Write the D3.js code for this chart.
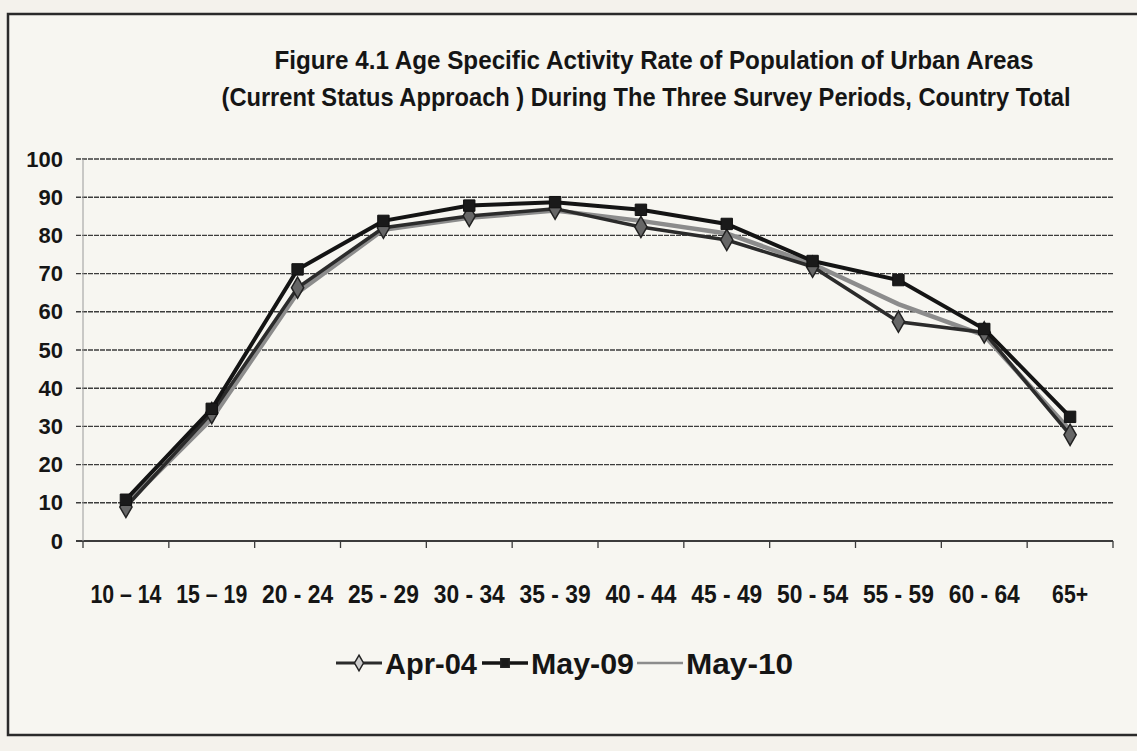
<!DOCTYPE html>
<html>
<head>
<meta charset="utf-8">
<script src="https://cdn.jsdelivr.net/npm/d3@7/dist/d3.min.js"></script>
<style>
  body { margin: 0; background: #f4f2ec; }
  svg { display: block; }
  text { font-family: "Liberation Sans", Arial, sans-serif; fill: #151515; }
</style>
</head>
<body>
<div id="chart"></div>
<script>
// age groups on the x axis (labels typed like the original, mixed dashes)
const ageGroups = ["10 – 14", "15 – 19", "20 - 24", "25 - 29", "30 - 34", "35 - 39",
                   "40 - 44", "45 - 49", "50 - 54", "55 - 59", "60 - 64", "65+"];
// activity rate (%)
const apr04 = [8.9, 33.5, 66.3, 82.0, 85.1, 87.0, 82.2, 78.8, 71.8, 57.4, 54.6, 27.8];
const may09 = [10.8, 34.6, 71.1, 83.8, 87.8, 88.7, 86.7, 83.0, 73.3, 68.3, 55.5, 32.5];
const may10 = [9.6, 32.0, 65.0, 81.5, 84.6, 86.5, 83.8, 80.5, 72.5, 62.0, 53.8, 29.0];
const yTicks = [0, 10, 20, 30, 40, 50, 60, 70, 80, 90, 100];
const seriesNames = ["Apr-04", "May-09", "May-10"];

const width = 1137, height = 751;

const svg = d3.select("#chart").append("svg")
    .attr("width", width)
    .attr("height", height);

// page frame
svg.append("rect")
    .attr("x", 8).attr("y", 14)
    .attr("width", width + 10).attr("height", 721)
    .attr("fill", "#f7f6f1")
    .attr("stroke", "#2a2a2a")
    .attr("stroke-width", 2.5);

// title, two lines
const titleLines = [
    { t: "Figure 4.1  Age Specific Activity Rate of Population of Urban Areas", y: 69, w: 759, cx: 654 },
    { t: "(Current  Status Approach ) During The Three Survey Periods, Country Total", y: 106, w: 849, cx: 646 }
];
svg.selectAll("text.title")
    .data(titleLines)
    .enter()
    .append("text")
    .attr("class", "title")
    .attr("x", d => d.cx)
    .attr("y", d => d.y)
    .attr("text-anchor", "middle")
    .attr("textLength", d => d.w)
    .attr("lengthAdjust", "spacingAndGlyphs")
    .style("font-size", "25px")
    .style("font-weight", "bold")
    .text(d => d.t);

// scales
let x = d3.scaleBand().domain(ageGroups).range([83, 1113]);
let y = d3.scaleLinear().domain([0, 100]).range([541, 159]);

// horizontal gridlines
svg.append("g")
    .selectAll("line")
    .data(yTicks)
    .enter()
    .append("line")
    .attr("x1", 76)
    .attr("x2", 1113)
    .attr("y1", d => y(d))
    .attr("y2", d => y(d))
    .attr("stroke", "#3c3c3c")
    .attr("stroke-width", d => d === 0 ? 1.8 : 1.4)
    .attr("stroke-dasharray", d => d === 0 ? null : "5,1");

// faint y axis line
svg.append("line")
    .attr("x1", 83).attr("x2", 83)
    .attr("y1", y(100)).attr("y2", y(0))
    .attr("stroke", "#9a9a9a")
    .attr("stroke-width", 1);

// y axis labels
let yAxis = d3.axisLeft(y).tickValues(yTicks).tickSize(0).tickPadding(0);
let gy = svg.append("g")
    .attr("transform", "translate(63,0)")
    .call(yAxis);
gy.select(".domain").remove();
gy.selectAll("text")
    .style("font-size", "22px")
    .style("font-weight", "bold")
    .style("font-family", "'Liberation Sans', Arial, sans-serif")
    .attr("fill", "#151515");

// x axis: ticks between the categories (like Excel), labels centred on bands
let gx = svg.append("g")
    .attr("transform", `translate(0, ${y(0)})`);
gx.selectAll("line.tick")
    .data(ageGroups.concat(["end"]))
    .enter()
    .append("line")
    .attr("class", "tick")
    .attr("x1", (d, i) => i < ageGroups.length ? x(d) : x(ageGroups[i - 1]) + x.bandwidth())
    .attr("x2", (d, i) => i < ageGroups.length ? x(d) : x(ageGroups[i - 1]) + x.bandwidth())
    .attr("y1", 0)
    .attr("y2", 7)
    .attr("stroke", "#3a3a3a")
    .attr("stroke-width", 1.3);

gx.selectAll("text")
    .data(ageGroups)
    .enter()
    .append("text")
    .attr("x", d => x(d) + x.bandwidth() / 2)
    .attr("y", 62)
    .attr("text-anchor", "middle")
    .attr("textLength", d => d === "65+" ? 36 : 71)
    .attr("lengthAdjust", "spacingAndGlyphs")
    .style("font-size", "26px")
    .style("font-weight", "bold")
    .text(d => d);

// series
const cx = (d, i) => x(ageGroups[i]) + x.bandwidth() / 2;
const lineGen = d3.line().x(cx).y(d => y(d));

// May-10: grey line, no markers
svg.append("path")
    .datum(may10)
    .attr("fill", "none")
    .attr("stroke", "#8c8c8c")
    .attr("stroke-width", 4.5)
    .attr("d", lineGen);

// Apr-04: dark line with diamonds
svg.append("path")
    .datum(apr04)
    .attr("fill", "none")
    .attr("stroke", "#2b2b2b")
    .attr("stroke-width", 3.5)
    .attr("d", lineGen);

const diamond = d3.symbol().type(d3.symbolDiamond).size(130);
svg.append("g")
    .selectAll("path")
    .data(apr04)
    .enter()
    .append("path")
    .attr("d", diamond)
    .attr("transform", (d, i) => `translate(${cx(d, i)},${y(d)})`)
    .attr("fill", "#666")
    .attr("stroke", "#222")
    .attr("stroke-width", 1.5);

// May-09: black line with squares
svg.append("path")
    .datum(may09)
    .attr("fill", "none")
    .attr("stroke", "#141414")
    .attr("stroke-width", 4)
    .attr("d", lineGen);

const square = d3.symbol().type(d3.symbolSquare).size(130);
svg.append("g")
    .selectAll("path")
    .data(may09)
    .enter()
    .append("path")
    .attr("d", square)
    .attr("transform", (d, i) => `translate(${cx(d, i)},${y(d)})`)
    .attr("fill", "#1a1a1a")
    .attr("stroke", "#111")
    .attr("stroke-width", 1);

// legend
const legendItems = [
    { name: seriesNames[0], x0: 336, tw: 92, color: "#2b2b2b", sw: 3, marker: "diamond" },
    { name: seriesNames[1], x0: 482, tw: 103, color: "#141414", sw: 3.5, marker: "square" },
    { name: seriesNames[2], x0: 637, tw: 107, color: "#8c8c8c", sw: 2.5, marker: null }
];
const legendY = 663;
let lg = svg.append("g")
    .selectAll("g")
    .data(legendItems)
    .enter()
    .append("g")
    .attr("transform", d => `translate(${d.x0},${legendY})`);

lg.append("line")
    .attr("x1", 0).attr("x2", 46)
    .attr("y1", 0).attr("y2", 0)
    .attr("stroke", d => d.color)
    .attr("stroke-width", d => d.sw);

lg.filter(d => d.marker)
    .append("path")
    .attr("d", d => d3.symbol().type(d.marker === "square" ? d3.symbolSquare : d3.symbolDiamond).size(70)())
    .attr("transform", "translate(23,0)")
    .attr("fill", d => d.marker === "square" ? "#1a1a1a" : "#ccc")
    .attr("stroke", "#222")
    .attr("stroke-width", 1.5);

lg.append("text")
    .attr("x", 49)
    .attr("y", 11)
    .attr("textLength", d => d.tw)
    .attr("lengthAdjust", "spacingAndGlyphs")
    .style("font-size", "30px")
    .style("font-weight", "bold")
    .text(d => d.name);
</script>
</body>
</html>
